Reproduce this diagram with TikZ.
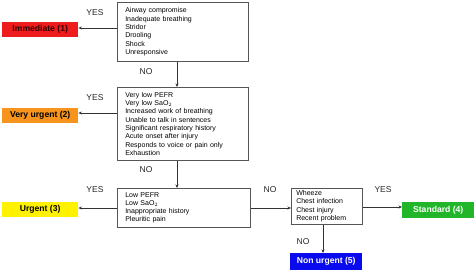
\documentclass[tikz,border=0pt]{standalone}
\usepackage{fontspec}
\setmainfont{Liberation Sans}
\usetikzlibrary{arrows.meta}
\definecolor{cred}{HTML}{EE1C1C}
\definecolor{corange}{HTML}{F7941D}
\definecolor{cyellow}{HTML}{FFF200}
\definecolor{cgreen}{HTML}{21B62A}
\definecolor{cblue}{HTML}{0A0AEE}
\definecolor{cline}{HTML}{555555}
\tikzset{
  crit/.style={draw=cline, line width=0.6pt, anchor=north west, align=left, inner sep=0pt,
    font=\fontsize{7}{8.3}\selectfont},
  cat/.style={anchor=north west, inner sep=0pt, font=\fontsize{8.6}{9}\selectfont\bfseries},
  lab/.style={font=\fontsize{8.5}{9}\selectfont, text=black!85},
  arr/.style={draw=black!80, line width=0.6pt, -{Stealth[length=3.5pt,width=3pt]}}
}
\begin{document}
\begin{tikzpicture}[x=1pt,y=-1pt]
\useasboundingbox (0,0) rectangle (474,272);
% criteria boxes
\node[crit, minimum width=131pt, minimum height=59pt, text width=125pt] (b1) at (117,2)
  {\hspace*{5pt}Airway compromise\\\hspace*{5pt}Inadequate breathing\\\hspace*{5pt}Stridor\\\hspace*{5pt}Drooling\\\hspace*{5pt}Shock\\\hspace*{5pt}Unresponsive};
\node[crit, minimum width=131pt, minimum height=73pt, text width=125pt] (b2) at (117,87)
  {\hspace*{5pt}Very low PEFR\\\hspace*{5pt}Very low SaO$_2$\\\hspace*{5pt}Increased work of breathing\\\hspace*{5pt}Unable to talk in sentences\\\hspace*{5pt}Significant respiratory history\\\hspace*{5pt}Acute onset after injury\\\hspace*{5pt}Responds to voice or pain only\\\hspace*{5pt}Exhaustion};
\node[crit, minimum width=133pt, minimum height=39pt, text width=127pt] (b3) at (117,188)
  {\hspace*{5pt}Low PEFR\\\hspace*{5pt}Low SaO$_2$\\\hspace*{5pt}Inappropriate history\\\hspace*{5pt}Pleuritic pain};
\node[crit, minimum width=71pt, minimum height=36pt, text width=67pt] (b4) at (291,188)
  {\hspace*{3pt}Wheeze\\\hspace*{3pt}Chest infection\\\hspace*{3pt}Chest injury\\\hspace*{3pt}Recent problem};
% category boxes
\node[cat, fill=cred, text=black!80!red, minimum width=76pt, minimum height=15pt] (c1) at (2,22) {Immediate (1)};
\node[cat, fill=corange, text=black, minimum width=76pt, minimum height=15pt] (c2) at (2,108) {Very urgent (2)};
\node[cat, fill=cyellow, text=black, minimum width=76pt, minimum height=15pt] (c3) at (2,202) {Urgent (3)};
\node[cat, fill=cgreen, text=white, minimum width=72pt, minimum height=16pt] (c4) at (402,202) {Standard (4)};
\node[cat, fill=cblue, text=white, minimum width=72pt, minimum height=17pt] (c5) at (290,253) {Non urgent (5)};
% labels
\node[lab] (y1) at (95,13) {YES};
\node[lab] (n1) at (146,72) {NO};
\node[lab] (y2) at (95,98) {YES};
\node[lab] (n2) at (146,170) {NO};
\node[lab] (y3) at (95,190) {YES};
\node[lab] (n3) at (270,190) {NO};
\node[lab] (y4) at (383,190) {YES};
\node[lab] (n4) at (303,242) {NO};
% connectors
\draw[arr] (b1.west |- 0,28) -- (c1.east |- 0,28);
\draw[arr] (b2.west |- 0,113) -- (c2.east |- 0,113);
\draw[arr] (b3.west |- 0,208) -- (c3.east |- 0,208);
\draw[arr] (b1.south -| 177,0) -- (b2.north -| 177,0);
\draw[arr] (b2.south -| 177,0) -- (b3.north -| 177,0);
\draw[arr] (b3.east |- 0,208) -- (b4.west |- 0,208);
\draw[arr] (b4.east |- 0,207) -- (c4.west |- 0,207);
\draw[arr] (b4.south -| 323,0) -- (c5.north -| 323,0);
\end{tikzpicture}
\end{document}
